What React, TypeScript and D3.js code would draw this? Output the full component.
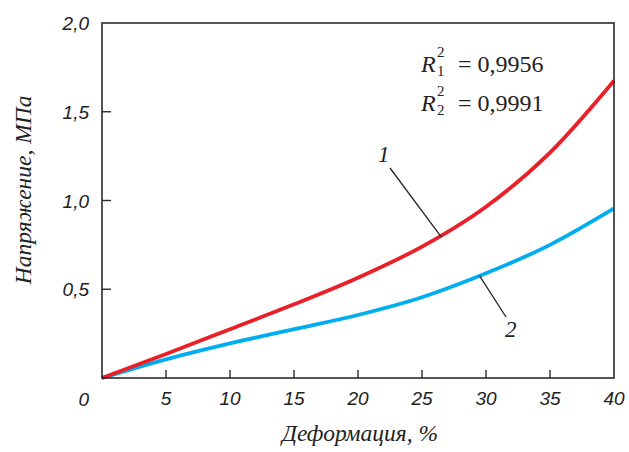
import React from "react";
import * as d3 from "d3";

const strain = [0, 5, 10, 15, 20, 25, 30, 35, 40];
const stress1 = [0, 0.135, 0.275, 0.415, 0.565, 0.74, 0.965, 1.27, 1.675];
const stress2 = [0, 0.105, 0.195, 0.275, 0.355, 0.455, 0.59, 0.75, 0.955];
const xTicks = [0, 5, 10, 15, 20, 25, 30, 35, 40];
const yTicks = [0.5, 1.0, 1.5, 2.0];

const W = 629, H = 452;
const M = { left: 102, right: 15, top: 23, bottom: 74 };
const SANS = "Liberation Sans";
const SERIF = "Liberation Serif";

export default function App() {
  const x = d3.scaleLinear().domain([0, 40]).range([M.left, W - M.right]);
  const y = d3.scaleLinear().domain([0, 2]).range([H - M.bottom, M.top]);
  const line = d3
    .line<number>()
    .x((_, i) => x(strain[i]))
    .y((d) => y(d))
    .curve(d3.curveMonotoneX);
  const fmt = (v: number) => v.toFixed(1).replace(".", ",");
  const axisColor = "#2b2b2b";
  return (
    <svg width={W} height={H} style={{ position: "absolute", left: 0, top: 0, background: "#fff" }}>
      <rect x={0} y={0} width={W} height={H} fill="#fff" />
      <path d={line(stress2) || ""} fill="none" stroke="#00aeef" strokeWidth={3.8} />
      <path d={line(stress1) || ""} fill="none" stroke="#ea1f27" strokeWidth={3.8} />
      <rect x={x(0)} y={y(2)} width={x(40) - x(0)} height={y(0) - y(2)} fill="none" stroke={axisColor} strokeWidth={1.6} />
      {xTicks.slice(1, -1).map((t) => (
        <line key={"xt" + t} x1={x(t)} x2={x(t)} y1={y(0)} y2={y(0) - 8} stroke={axisColor} strokeWidth={1.4} />
      ))}
      {yTicks.slice(0, -1).map((t) => (
        <line key={"yt" + t} x1={x(0)} x2={x(0) + 9} y1={y(t)} y2={y(t)} stroke={axisColor} strokeWidth={1.4} />
      ))}
      {xTicks.slice(1).map((t) => (
        <text key={"xl" + t} x={x(t)} y={405} textAnchor="middle" fontFamily={SANS} fontStyle="italic" fontSize={19} fill="#222">
          {t}
        </text>
      ))}
      <text x={89} y={406} textAnchor="end" fontFamily={SANS} fontStyle="italic" fontSize={19} fill="#222">0</text>
      {yTicks.map((t) => (
        <text key={"yl" + t} x={89} y={y(t) + 7} textAnchor="end" fontFamily={SANS} fontStyle="italic" fontSize={19} fill="#222">
          {fmt(t)}
        </text>
      ))}
      <text x={360} y={441} textAnchor="middle" fontFamily={SERIF} fontStyle="italic" fontSize={23.5} fill="#222">
        Деформация, %
      </text>
      <text transform={`translate(31,${y(1.06)}) rotate(-90)`} textAnchor="middle" fontFamily={SERIF} fontStyle="italic" fontSize={23.5} fill="#222">
        Напряжение, МПа
      </text>
      <text x={421} y={72} fontFamily={SERIF} fontStyle="italic" fontSize={24} fill="#222">R</text>
      <text x={437} y={57} fontFamily={SERIF} fontSize={15} fill="#222">2</text>
      <text x={437} y={76} fontFamily={SERIF} fontSize={15} fill="#222">1</text>
      <text x={458} y={72} fontFamily={SERIF} fontSize={24} fill="#222">= 0,9956</text>
      <text x={421} y={111} fontFamily={SERIF} fontStyle="italic" fontSize={24} fill="#222">R</text>
      <text x={437} y={96} fontFamily={SERIF} fontSize={15} fill="#222">2</text>
      <text x={437} y={115} fontFamily={SERIF} fontSize={15} fill="#222">2</text>
      <text x={458} y={111} fontFamily={SERIF} fontSize={24} fill="#222">= 0,9991</text>
      <line x1={390} y1={168} x2={x(26.5)} y2={y(0.795)} stroke="#222" strokeWidth={1.3} />
      <text x={378} y={162} fontFamily={SERIF} fontStyle="italic" fontSize={23} fill="#222">1</text>
      <line x1={x(29.5)} y1={y(0.575)} x2={506} y2={317} stroke="#222" strokeWidth={1.3} />
      <text x={505} y={337} fontFamily={SERIF} fontStyle="italic" fontSize={23} fill="#222">2</text>
    </svg>
  );
}
